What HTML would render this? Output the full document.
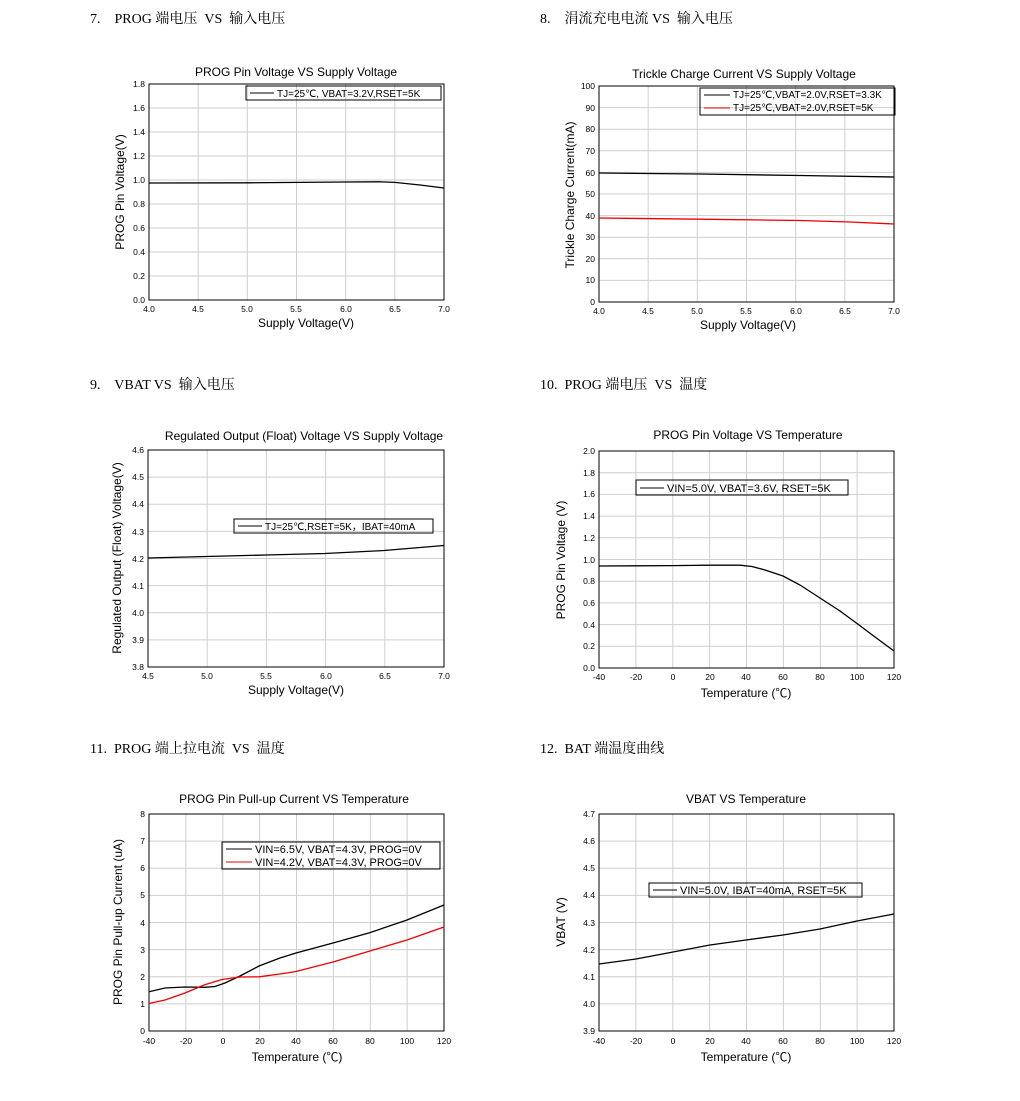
<!DOCTYPE html>
<html><head><meta charset="utf-8"><style>
body{margin:0;background:#fff}
svg{display:block}
.h{font-family:"Liberation Serif","Noto Serif CJK SC",serif;font-size:14px}
.t{font-family:"Liberation Sans","Noto Sans CJK SC",sans-serif;font-size:12px}
.k{font-family:"Liberation Sans",sans-serif;font-size:8.5px}
.g{stroke:#cfcfcf;stroke-width:1}
.f{fill:none;stroke:#000;stroke-width:1}
.c{fill:none;stroke-width:1.3}
</style></head><body>
<svg width="1020" height="1101" xmlns="http://www.w3.org/2000/svg">
<!-- headings -->
<text class="h" x="90" y="23">7.&#160;&#160;&#160; PROG 端电压&#160; VS&#160; 输入电压</text>
<text class="h" x="540" y="23">8.&#160;&#160;&#160; 涓流充电电流 VS&#160; 输入电压</text>
<text class="h" x="90" y="389">9.&#160;&#160;&#160; VBAT VS&#160; 输入电压</text>
<text class="h" x="540" y="389">10.&#160; PROG 端电压&#160; VS&#160; 温度</text>
<text class="h" x="90" y="753">11.&#160; PROG 端上拉电流&#160; VS&#160; 温度</text>
<text class="h" x="540" y="753">12.&#160; BAT 端温度曲线</text>

<!-- Chart 1 -->
<text class="t" x="296" y="76" text-anchor="middle">PROG Pin Voltage VS Supply Voltage</text>
<g class="g"><path d="M198.2 84V300M247.3 84V300M296.5 84V300M345.7 84V300M394.8 84V300M149 276H444M149 252H444M149 228H444M149 204H444M149 180H444M149 156H444M149 132H444M149 108H444"/></g>
<rect class="f" x="149" y="84" width="295" height="216"/>
<path class="c" stroke="#000" d="M149 183L250 182.8L345 182L380 181.8L394.8 182.4L420 185L444 188"/>
<g class="k" text-anchor="end"><text x="145" y="303">0.0</text><text x="145" y="279">0.2</text><text x="145" y="255">0.4</text><text x="145" y="231">0.6</text><text x="145" y="207">0.8</text><text x="145" y="183">1.0</text><text x="145" y="159">1.2</text><text x="145" y="135">1.4</text><text x="145" y="111">1.6</text><text x="145" y="87">1.8</text></g>
<g class="k" text-anchor="middle"><text x="149" y="312">4.0</text><text x="198" y="312">4.5</text><text x="247" y="312">5.0</text><text x="296" y="312">5.5</text><text x="346" y="312">6.0</text><text x="395" y="312">6.5</text><text x="444" y="312">7.0</text></g>
<text class="t" x="306" y="327" text-anchor="middle">Supply Voltage(V)</text>
<text class="t" transform="translate(124 192) rotate(-90)" text-anchor="middle">PROG Pin Voltage(V)</text>
<rect class="f" x="246" y="86" width="195" height="14" fill="#fff"/>
<path d="M250 93H274" stroke="#000"/><text class="k" x="277" y="97" style="font-size:10px">TJ=25℃, VBAT=3.2V,RSET=5K</text>

<!-- Chart 2 -->
<text class="t" x="744" y="78" text-anchor="middle">Trickle Charge Current VS Supply Voltage</text>
<g class="g"><path d="M648.2 86V302M697.3 86V302M746.5 86V302M795.7 86V302M844.8 86V302M599 280.4H894M599 258.8H894M599 237.2H894M599 215.6H894M599 194H894M599 172.4H894M599 150.8H894M599 129.2H894M599 107.6H894"/></g>
<rect class="f" x="599" y="86" width="295" height="216"/>
<path class="c" stroke="#000" d="M599 173L700 174L800 175.5L894 177"/>
<path class="c" stroke="#e00" d="M599 218L700 219.2L800 220.5L850 222L894 224"/>
<g class="k" text-anchor="end"><text x="595" y="305">0</text><text x="595" y="283">10</text><text x="595" y="262">20</text><text x="595" y="240">30</text><text x="595" y="219">40</text><text x="595" y="197">50</text><text x="595" y="176">60</text><text x="595" y="154">70</text><text x="595" y="132">80</text><text x="595" y="111">90</text><text x="595" y="89">100</text></g>
<g class="k" text-anchor="middle"><text x="599" y="314">4.0</text><text x="648" y="314">4.5</text><text x="697" y="314">5.0</text><text x="746" y="314">5.5</text><text x="796" y="314">6.0</text><text x="845" y="314">6.5</text><text x="894" y="314">7.0</text></g>
<text class="t" x="748" y="329" text-anchor="middle">Supply Voltage(V)</text>
<text class="t" transform="translate(574 195) rotate(-90)" text-anchor="middle">Trickle Charge Current(mA)</text>
<rect class="f" x="700" y="88" width="195" height="27" fill="#fff"/>
<path d="M704 95H730" stroke="#000"/><text class="k" x="733" y="98" style="font-size:10px">TJ=25℃,VBAT=2.0V,RSET=3.3K</text>
<path d="M704 108H730" stroke="#e00"/><text class="k" x="733" y="111" style="font-size:10px">TJ=25℃,VBAT=2.0V,RSET=5K</text>

<!-- Chart 3 -->
<text class="t" x="304" y="440" text-anchor="middle">Regulated Output (Float) Voltage VS Supply Voltage</text>
<g class="g"><path d="M207.2 450V667M266.4 450V667M325.6 450V667M384.8 450V667M148 477.1H444M148 504.3H444M148 531.4H444M148 558.5H444M148 585.6H444M148 612.8H444M148 639.9H444"/></g>
<rect class="f" x="148" y="450" width="296" height="217"/>
<path class="c" stroke="#000" d="M148 558L266 555L325 553.5L384 550.5L444 545.5"/>
<g class="k" text-anchor="end"><text x="144" y="670">3.8</text><text x="144" y="643">3.9</text><text x="144" y="616">4.0</text><text x="144" y="589">4.1</text><text x="144" y="562">4.2</text><text x="144" y="535">4.3</text><text x="144" y="507">4.4</text><text x="144" y="480">4.5</text><text x="144" y="453">4.6</text></g>
<g class="k" text-anchor="middle"><text x="148" y="679">4.5</text><text x="207" y="679">5.0</text><text x="266" y="679">5.5</text><text x="326" y="679">6.0</text><text x="385" y="679">6.5</text><text x="444" y="679">7.0</text></g>
<text class="t" x="296" y="694" text-anchor="middle">Supply Voltage(V)</text>
<text class="t" transform="translate(121 558) rotate(-90)" text-anchor="middle">Regulated Output (Float) Voltage(V)</text>
<rect class="f" x="234" y="519" width="199" height="14" fill="#fff"/>
<path d="M238 526H262" stroke="#000"/><text class="k" x="265" y="530" style="font-size:10px">TJ=25℃,RSET=5K，IBAT=40mA</text>

<!-- Chart 4 -->
<text class="t" x="748" y="439" text-anchor="middle">PROG Pin Voltage VS Temperature</text>
<g class="g"><path d="M635.9 451V668M672.8 451V668M709.6 451V668M746.5 451V668M783.4 451V668M820.3 451V668M857.1 451V668M599 646.3H894M599 624.6H894M599 602.9H894M599 581.2H894M599 559.5H894M599 537.8H894M599 516.1H894M599 494.4H894M599 472.7H894"/></g>
<rect class="f" x="599" y="451" width="295" height="217"/>
<path class="c" stroke="#000" d="M599 566L672 565.6L709 565.2L740 565.2L752 566.5L765 570L783 576L800 585L820 598L840 611L857 623.5L875 637L894 651"/>
<g class="k" text-anchor="end"><text x="595" y="671">0.0</text><text x="595" y="649">0.2</text><text x="595" y="628">0.4</text><text x="595" y="606">0.6</text><text x="595" y="584">0.8</text><text x="595" y="563">1.0</text><text x="595" y="541">1.2</text><text x="595" y="519">1.4</text><text x="595" y="497">1.6</text><text x="595" y="476">1.8</text><text x="595" y="454">2.0</text></g>
<g class="k" text-anchor="middle"><text x="599" y="680">-40</text><text x="636" y="680">-20</text><text x="673" y="680">0</text><text x="710" y="680">20</text><text x="746" y="680">40</text><text x="783" y="680">60</text><text x="820" y="680">80</text><text x="857" y="680">100</text><text x="894" y="680">120</text></g>
<text class="t" x="746" y="697" text-anchor="middle">Temperature (℃)</text>
<text class="t" transform="translate(565 560) rotate(-90)" text-anchor="middle">PROG Pin Voltage (V)</text>
<rect class="f" x="636" y="480" width="212" height="15" fill="#fff"/>
<path d="M640 488H664" stroke="#000"/><text class="k" x="667" y="492" style="font-size:11px">VIN=5.0V, VBAT=3.6V, RSET=5K</text>

<!-- Chart 5 -->
<text class="t" x="294" y="803" text-anchor="middle">PROG Pin Pull-up Current VS Temperature</text>
<g class="g"><path d="M185.9 814V1031M222.8 814V1031M259.6 814V1031M296.5 814V1031M333.4 814V1031M370.3 814V1031M407.1 814V1031M149 1003.9H444M149 976.8H444M149 949.6H444M149 922.5H444M149 895.4H444M149 868.3H444M149 841.1H444"/></g>
<rect class="f" x="149" y="814" width="295" height="217"/>
<path class="c" stroke="#000" d="M149 991.7L165 988L185 987L205 987.3L215 986.5L225 983L240 976L259 966L280 958L296 953L333 943L370 932.6L407 920L444 905"/>
<path class="c" stroke="#e00" d="M149 1003.5L165 1000L185 993L204 985L222 979.5L240 977L259 976.8L280 974L296 971.5L333 962L370 951L407 940L444 927"/>
<g class="k" text-anchor="end"><text x="145" y="1034">0</text><text x="145" y="1007">1</text><text x="145" y="980">2</text><text x="145" y="953">3</text><text x="145" y="926">4</text><text x="145" y="898">5</text><text x="145" y="871">6</text><text x="145" y="844">7</text><text x="145" y="817">8</text></g>
<g class="k" text-anchor="middle"><text x="149" y="1044">-40</text><text x="186" y="1044">-20</text><text x="223" y="1044">0</text><text x="260" y="1044">20</text><text x="296" y="1044">40</text><text x="333" y="1044">60</text><text x="370" y="1044">80</text><text x="407" y="1044">100</text><text x="444" y="1044">120</text></g>
<text class="t" x="297" y="1061" text-anchor="middle">Temperature (℃)</text>
<text class="t" transform="translate(122 922) rotate(-90)" text-anchor="middle">PROG Pin Pull-up Current (uA)</text>
<rect class="f" x="222" y="842" width="218" height="27" fill="#fff"/>
<path d="M226 849H252" stroke="#000"/><text class="k" x="255" y="853" style="font-size:11px">VIN=6.5V, VBAT=4.3V, PROG=0V</text>
<path d="M226 862H252" stroke="#e00"/><text class="k" x="255" y="866" style="font-size:11px">VIN=4.2V, VBAT=4.3V, PROG=0V</text>

<!-- Chart 6 -->
<text class="t" x="746" y="803" text-anchor="middle">VBAT VS Temperature</text>
<g class="g"><path d="M635.9 814V1031M672.8 814V1031M709.6 814V1031M746.5 814V1031M783.4 814V1031M820.3 814V1031M857.1 814V1031M599 1003.9H894M599 976.8H894M599 949.6H894M599 922.5H894M599 895.4H894M599 868.3H894M599 841.1H894"/></g>
<rect class="f" x="599" y="814" width="295" height="217"/>
<path class="c" stroke="#000" d="M599 964L636 959L673 952L710 945L746 940L783 935L820 929L857 921L894 914"/>
<g class="k" text-anchor="end"><text x="595" y="1034">3.9</text><text x="595" y="1007">4.0</text><text x="595" y="980">4.1</text><text x="595" y="953">4.2</text><text x="595" y="926">4.3</text><text x="595" y="898">4.4</text><text x="595" y="871">4.5</text><text x="595" y="844">4.6</text><text x="595" y="817">4.7</text></g>
<g class="k" text-anchor="middle"><text x="599" y="1044">-40</text><text x="636" y="1044">-20</text><text x="673" y="1044">0</text><text x="710" y="1044">20</text><text x="746" y="1044">40</text><text x="783" y="1044">60</text><text x="820" y="1044">80</text><text x="857" y="1044">100</text><text x="894" y="1044">120</text></g>
<text class="t" x="746" y="1061" text-anchor="middle">Temperature (℃)</text>
<text class="t" transform="translate(565 922) rotate(-90)" text-anchor="middle">VBAT (V)</text>
<rect class="f" x="649" y="883" width="213" height="14" fill="#fff"/>
<path d="M653 890H677" stroke="#000"/><text class="k" x="680" y="894" style="font-size:11px">VIN=5.0V, IBAT=40mA, RSET=5K</text>
</svg>
</body></html>
